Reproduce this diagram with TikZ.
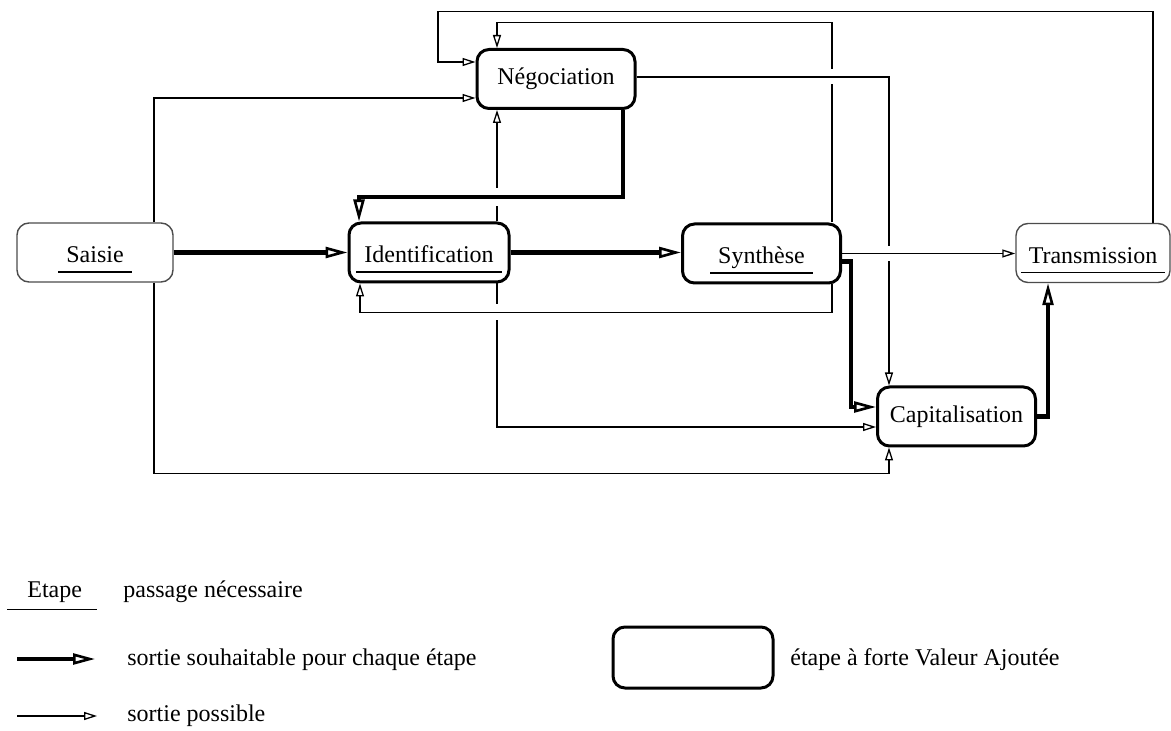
\documentclass[tikz,border=0pt]{standalone}
\usepackage{fontspec}
\setmainfont{Liberation Serif}
\newfontfamily\etapefont{Liberation Serif}
\usetikzlibrary{arrows.meta,backgrounds}
\newcommand\boxwidth{79pt}
\newcommand\boxheight{29.5pt}
\newcommand\etape[1]{\begin{tabular}{@{\hspace{4pt}}c@{\hspace{4pt}}}\rule{0pt}{15.2pt}#1\\[0pt]\hline\end{tabular}}
\setlength\arrayrulewidth{0.6pt}

\begin{document}
\begin{tikzpicture}[x=0.5pt,y=-0.5pt,
    font=\etapefont\fontsize{12}{14.4}\selectfont,
    forte/.style={draw,line width=1.5pt,rounded corners=6pt,fill=white,minimum width=\boxwidth,minimum height=\boxheight,inner sep=0pt},
    simple/.style={draw=black!70,line width=0.7pt,rounded corners=6pt,fill=white,minimum height=\boxheight,inner sep=0pt},
    souhait/.style={line width=2.4pt,-{Triangle[open,length=11pt,width=5.5pt,line width=1.3pt]}},
    possible/.style={line width=0.65pt,-{Triangle[open,length=6.5pt,width=4pt]}},
    saut/.style={preaction={draw=white,line width=#1,-}},
    legende/.style={anchor=west,inner sep=0pt}]
    \useasboundingbox (0,0) rectangle (1171,731);

    \node[forte] (neg) at (556,79) {Négociation};
    \node[simple,minimum width=78pt] (saisie) at (95,252.5) {\etape{Saisie}};
    \node[forte,minimum width=80pt] (ident) at (429,252.5) {\etape{Identification}};
    \node[forte] (synth) at (761.5,253.5) {\etape{Synthèse}};
    \node[simple,minimum width=77pt] (trans) at (1093,253) {\etape{Transmission}};
    \node[forte] (capi) at (956.5,416.5) {Capitalisation};

    \begin{scope}[on background layer]
    \draw[possible] ([xshift=29.5pt]saisie.north) |- ([yshift=-9.5pt]neg.west);
    \draw[possible] ([xshift=29.5pt]saisie.south) -- ++(0,191) -| ([xshift=-33.75pt]capi.south);
    \draw[possible] ([xshift=34pt]ident.north) -- ([xshift=-29.5pt]neg.south);
    \draw[possible] ([xshift=34pt]ident.south) |- ([yshift=-5.25pt]capi.west);
    \draw[possible] ([xshift=35.25pt]synth.north) -- ++(0,-200) -| ([xshift=-29.5pt]neg.north);
    \draw[possible] ([xshift=30pt]trans.north) -- ++(0,-211) -- ++(-715,0) |- ([yshift=8.5pt]neg.west);

    \draw[souhait,saut=9pt] ([xshift=33.5pt]neg.south) -- ++(0,87) -| ([xshift=-35pt]ident.north);
    \draw[possible,saut=8pt] ([xshift=35.25pt]synth.south) -- ++(0,28) -| ([xshift=-34.5pt]ident.south);
    \draw[possible,saut=7.5pt] ([yshift=1pt]neg.east) -| ([xshift=-33.75pt]capi.north);
    \draw[possible,saut=7.5pt] (synth.east) -- (synth.east -| trans.west);

    \draw[souhait] (saisie.east) -- (ident.west);
    \draw[souhait] (ident.east) -- (ident.east -| synth.west);
    \draw[souhait] ([yshift=-4pt]synth.east) -- ++(9,0) |- ([yshift=4.75pt]capi.west);
    \draw[souhait] (capi.east) -| ([xshift=-22.5pt]trans.south);
    \end{scope}

    \node[legende] (legetape) at (27,592) {Etape};
    \draw[line width=0.6pt] ([xshift=-10pt,yshift=-6pt]legetape.base west) -- ([xshift=7.5pt,yshift=-6pt]legetape.base east);
    \node[legende] (legpassage) at (123,592) {passage nécessaire};

    \coordinate (legA) at (17,659);
    \coordinate (legB) at (95,659);
    \draw[souhait] (legA) -- (legB);
    \node[legende] (legsouhait) at (127,660) {sortie souhaitable pour chaque étape};

    \coordinate (legC) at (17,716);
    \coordinate (legD) at (97,716);
    \draw[possible] (legC) -- (legD);
    \node[legende] (legpossible) at (127,716) {sortie possible};

    \node[forte,minimum width=80pt,minimum height=30.5pt] (legforte) at (693,657.5) {};
    \node[legende] (legvaleur) at (790,660) {étape à forte Valeur Ajoutée};
\end{tikzpicture}
\end{document}
